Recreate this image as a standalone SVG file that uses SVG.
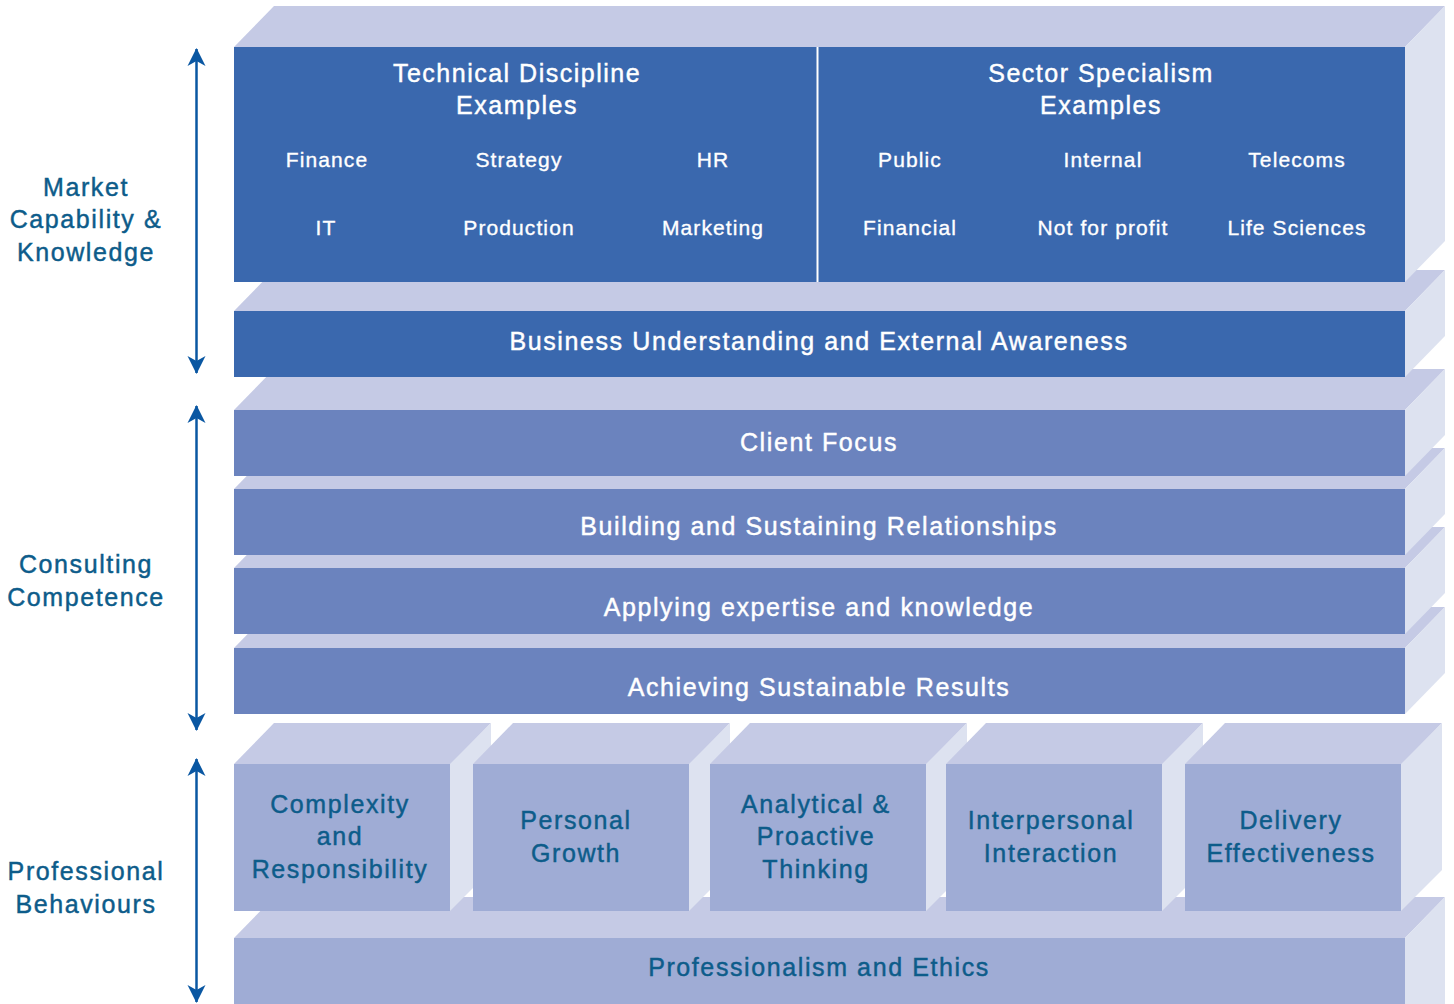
<svg xmlns="http://www.w3.org/2000/svg" width="1454" height="1004" viewBox="0 0 1454 1004">
  <defs>
    <style>
      .top { fill: #c5cae5; }
      .side { fill: #dde2f0; }
      .dark { fill: #3a68ae; }
      .mid { fill: #6b83be; }
      .light { fill: #9facd5; }
      text { font-family: "Liberation Sans", Arial, sans-serif; text-anchor: middle; stroke-width: 0.45px; }
      .band { fill: #ffffff; stroke: #ffffff; font-size: 25px; letter-spacing: 1.6px; }
      .head { fill: #ffffff; stroke: #ffffff; font-size: 25px; letter-spacing: 1.5px; }
      .item { fill: #ffffff; stroke: #ffffff; font-size: 21px; letter-spacing: 1.1px; stroke-width: 0.35px; }
      .teal { fill: #0d5c8a; stroke: #0d5c8a; font-size: 25px; letter-spacing: 1.6px; }
      .axis { stroke: #0a57a2; stroke-width: 2.5; fill: none; }
    </style>
    <marker id="head" markerUnits="userSpaceOnUse" viewBox="-18 -10 20 20" refX="0" refY="0" markerWidth="20" markerHeight="20" orient="auto-start-reverse">
      <path d="M1,0 L-17,-9 L-12,0 L-17,9 Z" fill="#0a57a2"/>
    </marker>
  </defs>

  <rect width="1454" height="1004" fill="#ffffff"/>

  <!-- base slab -->
  <g id="professionalism">
    <polygon class="top" points="234,938 274,897 1445,897 1405,938"/>
    <polygon class="side" points="1405,938 1445,897 1445,1004 1405,1004"/>
    <rect class="light" x="234" y="938" width="1171" height="70"/>
    <text class="teal" x="819" y="976">Professionalism and Ethics</text>
  </g>

  <!-- behaviour cubes, drawn left to right -->
  <g id="complexity">
    <polygon class="top" points="234,764 274,723 491,723 451,764"/>
    <polygon class="side" points="450,764 491,723 491,870 450,911"/>
    <rect class="light" x="234" y="764" width="216" height="147"/>
    <text class="teal" x="340" y="813">Complexity</text>
    <text class="teal" x="340" y="845">and</text>
    <text class="teal" x="340" y="878">Responsibility</text>
  </g>
  <g id="personal-growth">
    <polygon class="top" points="473,764 513,723 730,723 690,764"/>
    <polygon class="side" points="689,764 730,723 730,870 689,911"/>
    <rect class="light" x="473" y="764" width="216" height="147"/>
    <text class="teal" x="576" y="829">Personal</text>
    <text class="teal" x="576" y="862">Growth</text>
  </g>
  <g id="analytical">
    <polygon class="top" points="710,764 750,723 967,723 927,764"/>
    <polygon class="side" points="926,764 967,723 967,870 926,911"/>
    <rect class="light" x="710" y="764" width="216" height="147"/>
    <text class="teal" x="816" y="813">Analytical &amp;</text>
    <text class="teal" x="816" y="845">Proactive</text>
    <text class="teal" x="816" y="878">Thinking</text>
  </g>
  <g id="interpersonal">
    <polygon class="top" points="946,764 986,723 1203,723 1163,764"/>
    <polygon class="side" points="1162,764 1203,723 1203,870 1162,911"/>
    <rect class="light" x="946" y="764" width="216" height="147"/>
    <text class="teal" x="1051" y="829">Interpersonal</text>
    <text class="teal" x="1051" y="862">Interaction</text>
  </g>
  <g id="delivery">
    <polygon class="top" points="1185,764 1225,723 1442,723 1402,764"/>
    <polygon class="side" points="1401,764 1442,723 1442,870 1401,911"/>
    <rect class="light" x="1185" y="764" width="216" height="147"/>
    <text class="teal" x="1291" y="829">Delivery</text>
    <text class="teal" x="1291" y="862">Effectiveness</text>
  </g>

  <!-- consulting competence bands, lowest first -->
  <g id="achieving">
    <polygon class="top" points="234,648 274,607 1445,607 1405,648"/>
    <polygon class="side" points="1405,648 1445,607 1445,673 1405,714"/>
    <rect class="mid" x="234" y="648" width="1171" height="66"/>
    <text class="band" x="819" y="696">Achieving Sustainable Results</text>
  </g>
  <g id="applying">
    <polygon class="top" points="234,568 274,527 1445,527 1405,568"/>
    <polygon class="side" points="1405,568 1445,527 1445,593 1405,634"/>
    <rect class="mid" x="234" y="568" width="1171" height="66"/>
    <text class="band" x="819" y="616">Applying expertise and knowledge</text>
  </g>
  <g id="relationships">
    <polygon class="top" points="234,489 274,448 1445,448 1405,489"/>
    <polygon class="side" points="1405,489 1445,448 1445,514 1405,555"/>
    <rect class="mid" x="234" y="489" width="1171" height="66"/>
    <text class="band" x="819" y="535">Building and Sustaining Relationships</text>
  </g>
  <g id="client-focus">
    <polygon class="top" points="234,410 274,369 1445,369 1405,410"/>
    <polygon class="side" points="1405,410 1445,369 1445,435 1405,476"/>
    <rect class="mid" x="234" y="410" width="1171" height="66"/>
    <text class="band" x="819" y="451">Client Focus</text>
  </g>

  <!-- market capability bands -->
  <g id="business-understanding">
    <polygon class="top" points="234,311 274,270 1445,270 1405,311"/>
    <polygon class="side" points="1405,311 1445,270 1445,336 1405,377"/>
    <rect class="dark" x="234" y="311" width="1171" height="66"/>
    <text class="band" x="819" y="350">Business Understanding and External Awareness</text>
  </g>
  <g id="examples">
    <polygon class="top" points="234,47 274,6 1445,6 1405,47"/>
    <polygon class="side" points="1405,47 1445,6 1445,241 1405,282"/>
    <rect class="dark" x="234" y="47" width="1171" height="235"/>
    <line x1="817.5" y1="47" x2="817.5" y2="282" stroke="#ffffff" stroke-width="2"/>
    <text class="head" x="517" y="82">Technical Discipline</text>
    <text class="head" x="517" y="114">Examples</text>
    <text class="item" x="327" y="167">Finance</text>
    <text class="item" x="519" y="167">Strategy</text>
    <text class="item" x="713" y="167">HR</text>
    <text class="item" x="326" y="235">IT</text>
    <text class="item" x="519" y="235">Production</text>
    <text class="item" x="713" y="235">Marketing</text>
    <text class="head" x="1101" y="82">Sector Specialism</text>
    <text class="head" x="1101" y="114">Examples</text>
    <text class="item" x="910" y="167">Public</text>
    <text class="item" x="1103" y="167">Internal</text>
    <text class="item" x="1297" y="167">Telecoms</text>
    <text class="item" x="910" y="235">Financial</text>
    <text class="item" x="1103" y="235">Not for profit</text>
    <text class="item" x="1297" y="235">Life Sciences</text>
  </g>

  <!-- side axis labels -->
  <g id="label-market">
    <text class="teal" x="86" y="196">Market</text>
    <text class="teal" x="86" y="228">Capability &amp;</text>
    <text class="teal" x="86" y="261">Knowledge</text>
  </g>
  <g id="label-consulting">
    <text class="teal" x="86" y="573">Consulting</text>
    <text class="teal" x="86" y="606">Competence</text>
  </g>
  <g id="label-professional">
    <text class="teal" x="86" y="880">Professional</text>
    <text class="teal" x="86" y="913">Behaviours</text>
  </g>

  <!-- double-headed range arrows -->
  <g id="connectors">
    <line class="axis" x1="196.5" y1="49" x2="196.5" y2="373" marker-start="url(#head)" marker-end="url(#head)"/>
    <line class="axis" x1="196.5" y1="406" x2="196.5" y2="730" marker-start="url(#head)" marker-end="url(#head)"/>
    <line class="axis" x1="196.5" y1="759" x2="196.5" y2="1002" marker-start="url(#head)" marker-end="url(#head)"/>
  </g>
</svg>
